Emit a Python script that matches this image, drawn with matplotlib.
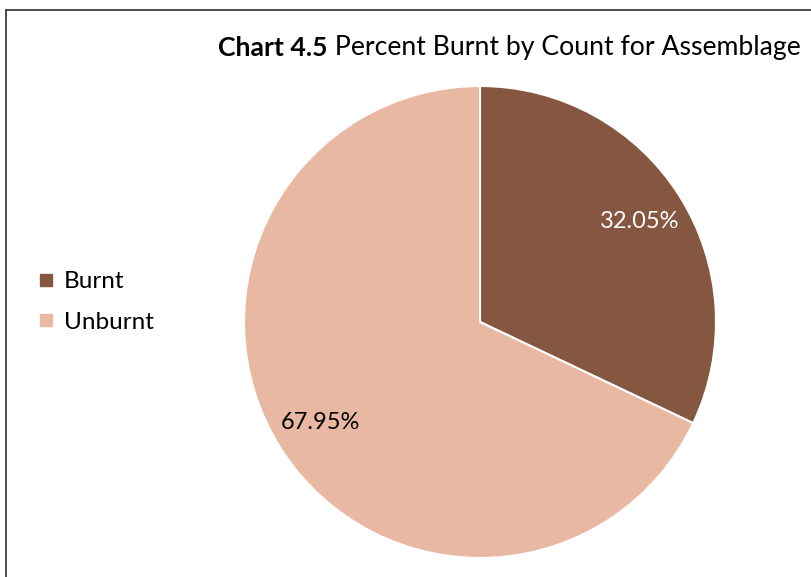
import matplotlib
matplotlib.use("Agg")
import matplotlib.pyplot as plt
from matplotlib.lines import Line2D

categories = ["Burnt", "Unburnt"]
values = [32.05, 67.95]
colors = ["#855640", "#E9B8A2"]
title_bold = "Chart 4.5"
title_rest = " Percent Burnt by Count for Assemblage"

plt.rcParams['font.family'] = ['Lato', 'DejaVu Sans']

W, H = 812, 577
fig = plt.figure(figsize=(W/100, H/100), dpi=100)

# border (top and left visible)
fig.add_artist(Line2D([6/W, 6/W], [0, 1 - 10/H], transform=fig.transFigure, color="#404040", lw=1.3))
fig.add_artist(Line2D([6/W, 1], [1 - 10/H, 1 - 10/H], transform=fig.transFigure, color="#404040", lw=1.3))

cx, cy, r = 480, 322, 236
ax = fig.add_axes([(cx - r)/W, (H - cy - r)/H, 2*r/W, 2*r/H])
wedges, texts, autotexts = ax.pie(
    values, colors=colors, startangle=90, counterclock=False,
    autopct=lambda p: f"{p:.2f}%", pctdistance=0.8,
    wedgeprops=dict(edgecolor="white", linewidth=1.5),
    textprops=dict(fontsize=17))
autotexts[0].set_color("white")
autotexts[1].set_color("black")
ax.set_xlim(-1, 1)
ax.set_ylim(-1, 1)
ax.set_aspect("equal")

t1 = fig.text(218/W, 1 - 56/H, title_bold, fontsize=19.2, fontweight="bold", va="baseline", ha="left")
ax.annotate(title_rest, xy=(1, 0), xycoords=t1, va="bottom", ha="left", fontsize=19.2,
            annotation_clip=False)

handles = [Line2D([], [], marker="s", linestyle="none", markersize=8, markerfacecolor=c,
                  markeredgecolor=c) for c in colors]
fig.legend(handles, categories, loc="center left", bbox_to_anchor=(13/W, 1 - 302/H),
           frameon=False, fontsize=17.5, handletextpad=0.3, labelspacing=0.8,
           handlelength=0.9)

fig.savefig("out.png", dpi=100)
